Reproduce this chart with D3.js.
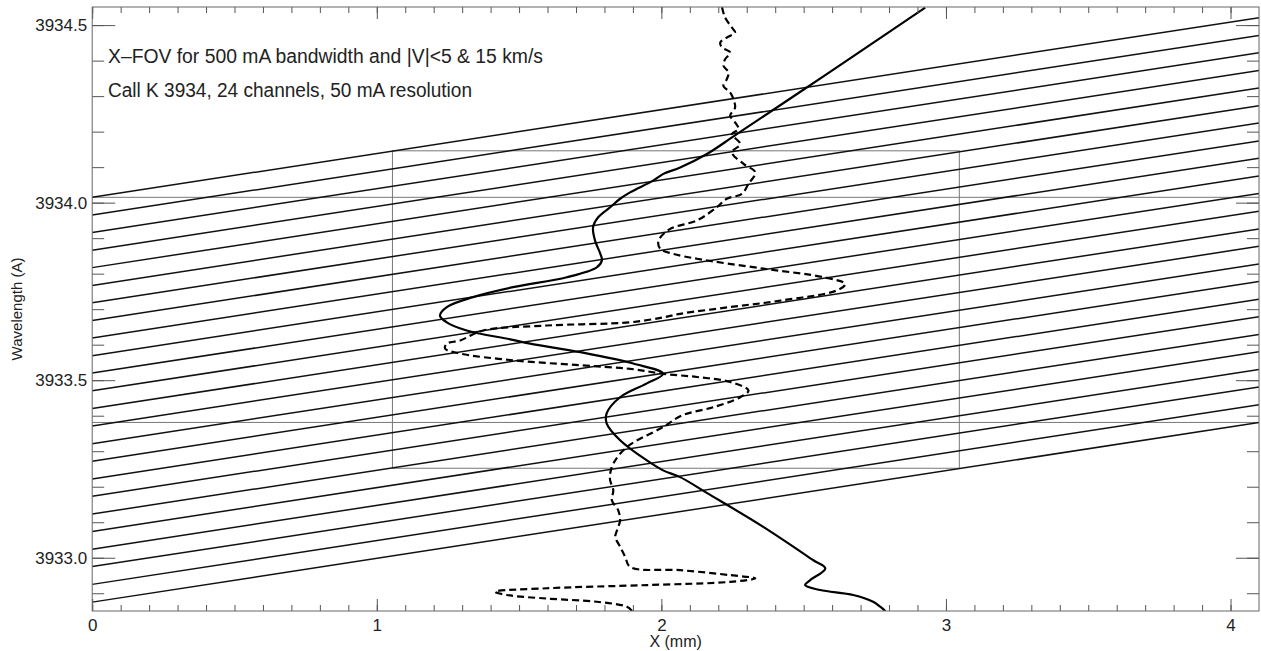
<!DOCTYPE html>
<html>
<head>
<meta charset="utf-8">
<script src="https://d3js.org/d3.v7.min.js"></script>
<style>
body { margin: 0; background: #fff; }
text { font-family: "Liberation Sans", "DejaVu Sans", sans-serif; fill: #222; }
</style>
</head>
<body>
<svg id="chart" width="1261" height="651"></svg>
<script>
// channel wavelengths at x = 0 and at x = 4.1 mm
var chanLeft = [3934.015, 3933.965, 3933.916, 3933.866, 3933.817, 3933.767, 3933.718, 3933.668,
  3933.619, 3933.569, 3933.520, 3933.470, 3933.420, 3933.371, 3933.321, 3933.272,
  3933.222, 3933.173, 3933.123, 3933.074, 3933.024, 3932.975, 3932.925, 3932.875];
var chanRight = [3934.521, 3934.471, 3934.422, 3934.372, 3934.323, 3934.273, 3934.224, 3934.174,
  3934.125, 3934.075, 3934.026, 3933.976, 3933.926, 3933.877, 3933.827, 3933.778,
  3933.728, 3933.679, 3933.629, 3933.580, 3933.530, 3933.481, 3933.431, 3933.381];

// solid profile: x (mm), wavelength (A)
var solidX = [2.927, 2.572, 2.265, 2.160, 2.066, 2.007, 1.971, 1.890, 1.855, 1.820, 1.778, 1.760,
  1.767, 1.785, 1.791, 1.773, 1.668, 1.479, 1.338, 1.246, 1.222, 1.246, 1.316, 1.469, 1.539,
  1.715, 1.901, 2.006, 1.949, 1.855, 1.808, 1.808, 1.855, 1.949, 2.006, 2.066, 2.161, 2.358,
  2.534, 2.576, 2.523, 2.505, 2.558, 2.674, 2.744, 2.769, 2.787];
var solidW = [3934.549, 3934.357, 3934.193, 3934.137, 3934.099, 3934.081, 3934.062, 3934.029,
  3934.011, 3933.987, 3933.959, 3933.931, 3933.893, 3933.857, 3933.837, 3933.818, 3933.790,
  3933.762, 3933.734, 3933.706, 3933.682, 3933.663, 3933.640, 3933.615, 3933.603, 3933.579,
  3933.547, 3933.518, 3933.491, 3933.452, 3933.407, 3933.378, 3933.331, 3933.274, 3933.246,
  3933.227, 3933.182, 3933.087, 3932.993, 3932.970, 3932.937, 3932.923, 3932.909, 3932.895,
  3932.876, 3932.862, 3932.850];

// dashed profile
var dashX = [2.213, 2.224, 2.248, 2.259, 2.230, 2.207, 2.213, 2.242, 2.224, 2.218, 2.236, 2.230,
  2.218, 2.242, 2.253, 2.259, 2.242, 2.259, 2.271, 2.248, 2.277, 2.248, 2.289, 2.330, 2.306,
  2.283, 2.230, 2.195, 2.125, 2.031, 1.990, 1.996, 2.041, 2.125, 2.359, 2.570, 2.646, 2.617,
  2.418, 2.242, 2.066, 2.007, 1.890, 1.598, 1.374, 1.293, 1.246, 1.240, 1.293, 1.479, 1.715,
  1.890, 2.007, 2.125, 2.242, 2.306, 2.277, 2.183, 2.073, 2.006, 1.879, 1.831, 1.820, 1.820,
  1.831, 1.826, 1.848, 1.855, 1.844, 1.838, 1.855, 1.873, 1.890, 2.066, 2.242, 2.330, 2.242,
  1.949, 1.598, 1.416, 1.457, 1.598, 1.773, 1.879, 1.897];
var dashW = [3934.550, 3934.521, 3934.493, 3934.479, 3934.465, 3934.451, 3934.437, 3934.423,
  3934.404, 3934.386, 3934.367, 3934.348, 3934.329, 3934.310, 3934.292, 3934.268, 3934.245,
  3934.226, 3934.207, 3934.193, 3934.165, 3934.142, 3934.109, 3934.085, 3934.053, 3934.025,
  3934.011, 3933.987, 3933.950, 3933.926, 3933.893, 3933.870, 3933.856, 3933.842, 3933.814,
  3933.790, 3933.771, 3933.753, 3933.724, 3933.706, 3933.687, 3933.677, 3933.663, 3933.654,
  3933.640, 3933.612, 3933.603, 3933.589, 3933.575, 3933.556, 3933.542, 3933.532, 3933.518,
  3933.509, 3933.495, 3933.471, 3933.452, 3933.424, 3933.401, 3933.368, 3933.312, 3933.265,
  3933.237, 3933.218, 3933.190, 3933.162, 3933.134, 3933.106, 3933.077, 3933.059, 3933.031,
  3933.002, 3932.974, 3932.965, 3932.951, 3932.942, 3932.932, 3932.923, 3932.914, 3932.904,
  3932.895, 3932.885, 3932.876, 3932.862, 3932.850];

// field of view box and reference lines
var boxX = [1.055, 3.047];
var boxW = [3933.252, 3934.146];
var refW = [3934.015, 3933.381];

var xMajor = [0, 1, 2, 3, 4];
var yMajor = [3933.0, 3933.5, 3934.0, 3934.5];

var L = 92.2, R = 1259, T = 7, B = 611;
var x = d3.scaleLinear().domain([0, 4.1]).range([L, R]);
var y = d3.scaleLinear().domain([3932.85, 3934.551]).range([B, T]);

var xMinor = d3.range(0, 41).map(function(i) { return i / 10; });
var yMinor = d3.range(29, 46).map(function(i) { return 3930 + i / 10; });

var svg = d3.select("#chart");

svg.append("clipPath").attr("id", "clip")
  .append("rect").attr("x", L).attr("y", T).attr("width", R - L).attr("height", B - T);

var plot = svg.append("g").attr("clip-path", "url(#clip)");

// reference lines + box
plot.selectAll(".ref").data(refW).enter().append("line")
  .attr("x1", x(0)).attr("x2", x(4.1))
  .attr("y1", function(d) { return y(d); }).attr("y2", function(d) { return y(d); })
  .attr("stroke", "#777").attr("stroke-width", 1);

plot.append("rect")
  .attr("x", x(boxX[0])).attr("y", y(boxW[1]))
  .attr("width", x(boxX[1]) - x(boxX[0])).attr("height", y(boxW[0]) - y(boxW[1]))
  .attr("fill", "none").attr("stroke", "#777").attr("stroke-width", 1);

// channels
plot.selectAll(".chan").data(chanLeft).enter().append("line")
  .attr("x1", x(0)).attr("x2", x(4.1))
  .attr("y1", function(d) { return y(d); })
  .attr("y2", function(d, i) { return y(chanRight[i]); })
  .attr("stroke", "#111").attr("stroke-width", 1.5);

var line = d3.line().curve(d3.curveCatmullRom)
  .x(function(d) { return x(d[0]); }).y(function(d) { return y(d[1]); });

plot.append("path").datum(d3.zip(solidX, solidW))
  .attr("d", line).attr("fill", "none").attr("stroke", "#000").attr("stroke-width", 2.2);

plot.append("path").datum(d3.zip(dashX, dashW))
  .attr("d", line).attr("fill", "none").attr("stroke", "#000").attr("stroke-width", 2.2)
  .attr("stroke-dasharray", "7,4");

// axes
function ax(gen, tx, ty, vals, size, fmt, pad) {
  var g = svg.append("g").attr("transform", "translate(" + tx + "," + ty + ")")
    .call(gen.tickValues(vals).tickSize(size).tickSizeOuter(0)
      .tickFormat(fmt || function() { return ""; }).tickPadding(pad || 3));
  g.attr("font-size", 17).attr("font-family", "Liberation Sans");
  g.select(".domain").remove();
  g.selectAll(".tick line").attr("stroke", "#555");
  g.selectAll("text").style("font-size", "17px").attr("fill", "#222");
  return g;
}
ax(d3.axisBottom(x), 0, B, xMinor, -6);
ax(d3.axisBottom(x), 0, B, xMajor, -12, d3.format("d"), 8);
ax(d3.axisTop(x), 0, T, xMinor, -6);
ax(d3.axisTop(x), 0, T, xMajor, -12);
ax(d3.axisLeft(y), L, 0, yMinor, -12);
ax(d3.axisLeft(y), L, 0, yMajor, -23, d3.format(".1f"), 5);
ax(d3.axisRight(y), R, 0, yMinor, -12);
ax(d3.axisRight(y), R, 0, yMajor, -23);

svg.append("rect").attr("x", L).attr("y", T).attr("width", R - L).attr("height", B - T)
  .attr("fill", "none").attr("stroke", "#666").attr("stroke-width", 1);

// titles
svg.append("text").attr("x", (L + R) / 2).attr("y", 647).attr("text-anchor", "middle")
  .style("font-size", "16px").text("X (mm)");
svg.append("text").attr("transform", "translate(22," + ((T + B) / 2) + ") rotate(-90)")
  .attr("text-anchor", "middle").style("font-size", "15px").text("Wavelength (A)");

svg.append("text").attr("x", 108).attr("y", 63).style("font-size", "20px")
  .attr("textLength", 435).attr("lengthAdjust", "spacingAndGlyphs")
  .text("X\u2013FOV for 500 mA bandwidth and |V|<5 & 15 km/s");
svg.append("text").attr("x", 108).attr("y", 97).style("font-size", "20px")
  .attr("textLength", 364).attr("lengthAdjust", "spacingAndGlyphs")
  .text("Call K 3934, 24 channels, 50 mA resolution");
</script>
</body>
</html>
